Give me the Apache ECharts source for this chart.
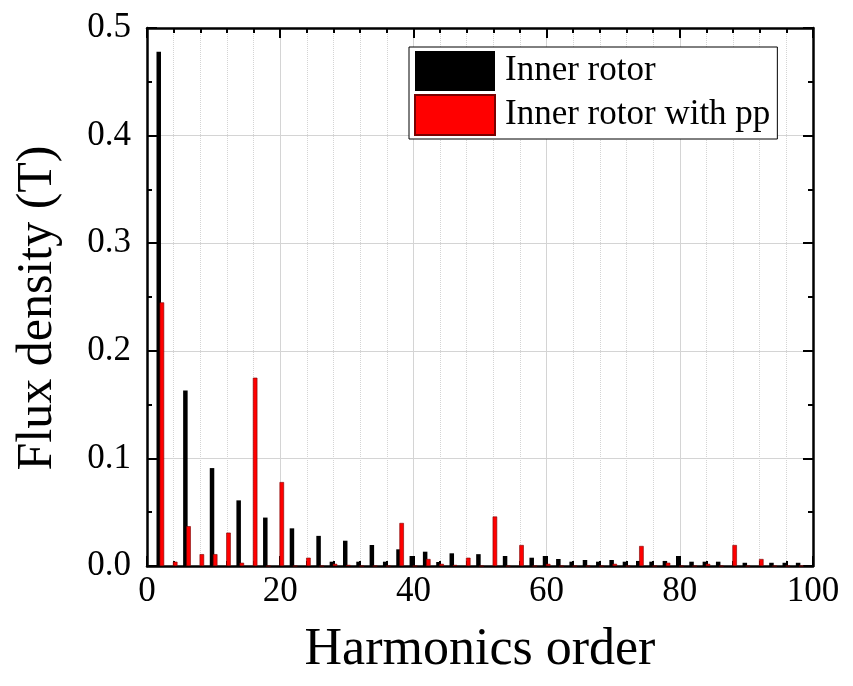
<!DOCTYPE html>
<html>
<head>
<meta charset="utf-8">
<script src="https://cdn.jsdelivr.net/npm/echarts@6/dist/echarts.min.js"></script>
<style>
  html, body { margin: 0; padding: 0; background: #fff; }
  #chart { width: 853px; height: 686px; }
</style>
</head>
<body>
<div id="chart"></div>
<script>
// harmonic orders (even harmonics)
const orders = [2, 4, 6, 8, 10, 12, 14, 16, 18, 20, 22, 24, 26, 28, 30, 32, 34, 36, 38, 40,
  42, 44, 46, 48, 50, 52, 54, 56, 58, 60, 62, 64, 66, 68, 70, 72, 74, 76, 78, 80,
  82, 84, 86, 88, 90, 92, 94, 96, 98];

const innerRotor = [0.478, 0, 0.163, 0, 0.091, 0, 0.061, 0, 0.045, 0,
  0.035, 0, 0.028, 0.004, 0.0235, 0.004, 0.0195, 0.004, 0.0155, 0.0093,
  0.0133, 0.0037, 0.0118, 0, 0.011, 0, 0.0093, 0, 0.0077, 0.0093,
  0.0065, 0.004, 0.0056, 0.004, 0.0056, 0.004, 0.0047, 0.004, 0.0047, 0.0093,
  0.004, 0.004, 0.004, 0, 0.003, 0, 0.003, 0.003, 0.003];

const innerRotorPP = [0.245, 0.004, 0.037, 0.011, 0.011, 0.031, 0.003, 0.175, 0, 0.078,
  0, 0.0077, 0, 0.002, 0.001, 0, 0, 0, 0.040, 0,
  0.0065, 0.002, 0.001, 0.0077, 0, 0.046, 0, 0.0195, 0, 0.002,
  0, 0, 0, 0, 0.002, 0, 0.0186, 0, 0.003, 0,
  0, 0.002, 0, 0.0195, 0, 0.0065, 0, 0, 0];

const seriesNames = ["Inner rotor", "Inner rotor with pp"];

const fontFamily = "Liberation Serif";

function pairs(values) {
  return orders.map((o, i) => [o, values[i]]);
}

const tickStyle = {
  show: true,
  inside: true,
  length: 10,
  lineStyle: { color: "#000", width: 2 }
};
const minorTickStyle = {
  show: true,
  length: 5,
  lineStyle: { color: "#000", width: 2 }
};
const axisLineStyle = {
  show: true,
  onZero: false,
  lineStyle: { color: "#000", width: 2.5 }
};

const option = {
  backgroundColor: "#fff",
  animation: false,
  grid: {
    left: 147,
    right: 40,
    top: 28,
    bottom: 120
  },
  legend: {
    left: 409,
    top: 47,
    orient: "vertical",
    icon: "rect",
    itemWidth: 80,
    itemHeight: 40,
    itemGap: 3,
    padding: [4, 7, 3, 5],
    borderColor: "#000",
    borderWidth: 1,
    backgroundColor: "#fff",
    textStyle: {
      fontFamily: fontFamily,
      fontSize: 35,
      color: "#000",
      padding: [0, 0, 0, 5]
    },
    data: seriesNames
  },
  xAxis: [
    {
      type: "value",
      min: 0,
      max: 100,
      interval: 20,
      name: "Harmonics order",
      nameLocation: "middle",
      nameGap: 58,
      nameTextStyle: { fontFamily: fontFamily, fontSize: 52, color: "#000" },
      axisLine: axisLineStyle,
      axisTick: tickStyle,
      minorTick: Object.assign({ splitNumber: 5 }, minorTickStyle),
      axisLabel: {
        fontFamily: fontFamily,
        fontSize: 35,
        color: "#000",
        margin: 8
      },
      splitLine: { show: true, lineStyle: { color: "#d4d4d4", width: 1 } },
      minorSplitLine: {
        show: true,
        lineStyle: { color: "#d4d4d4", width: 1, type: "dotted" }
      }
    },
    {
      type: "value",
      position: "top",
      min: 0,
      max: 100,
      interval: 20,
      axisLine: axisLineStyle,
      axisTick: tickStyle,
      minorTick: Object.assign({ splitNumber: 5 }, minorTickStyle),
      axisLabel: { show: false },
      splitLine: { show: false }
    }
  ],
  yAxis: [
    {
      type: "value",
      min: 0,
      max: 0.5,
      interval: 0.1,
      name: "Flux density (T)",
      nameLocation: "middle",
      nameGap: 84,
      nameTextStyle: {
        fontFamily: fontFamily,
        fontSize: 50,
        color: "#000",
        padding: [0, 22, 0, 0]
      },
      axisLine: axisLineStyle,
      axisTick: tickStyle,
      minorTick: Object.assign({ splitNumber: 2 }, minorTickStyle),
      axisLabel: {
        fontFamily: fontFamily,
        fontSize: 35,
        color: "#000",
        margin: 16,
        formatter: v => v.toFixed(1)
      },
      splitLine: { show: true, lineStyle: { color: "#d4d4d4", width: 1 } }
    },
    {
      type: "value",
      position: "right",
      min: 0,
      max: 0.5,
      interval: 0.1,
      axisLine: axisLineStyle,
      axisTick: tickStyle,
      minorTick: Object.assign({ splitNumber: 2 }, minorTickStyle),
      axisLabel: { show: false },
      splitLine: { show: false }
    }
  ],
  series: [
    {
      name: seriesNames[0],
      type: "bar",
      xAxisIndex: 0,
      yAxisIndex: 0,
      barWidth: 4.5,
      barGap: "-30%",
      itemStyle: { color: "#000" },
      data: pairs(innerRotor)
    },
    {
      name: seriesNames[1],
      type: "bar",
      xAxisIndex: 0,
      yAxisIndex: 0,
      barWidth: 4.5,
      barGap: "-30%",
      itemStyle: { color: "#ff0000", borderColor: "#7a0000", borderWidth: 0.6 },
      data: pairs(innerRotorPP)
    }
  ]
};

const myChart = echarts.init(document.getElementById("chart"));
myChart.setOption(option);
</script>
</body>
</html>
